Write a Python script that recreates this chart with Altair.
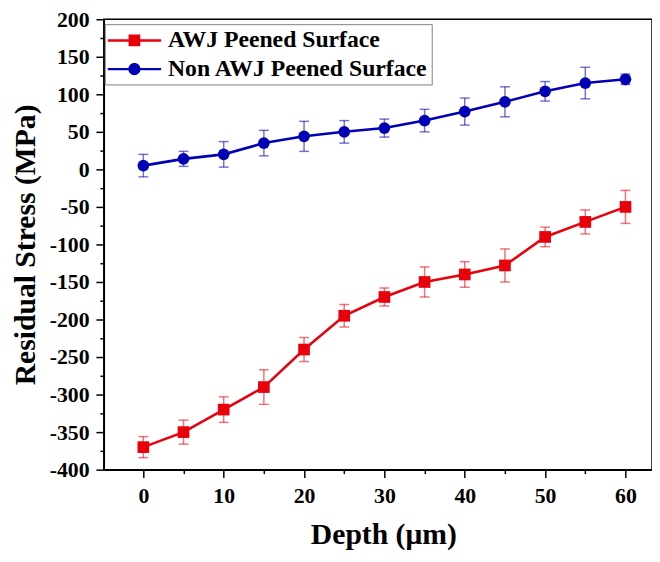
import altair as alt
import pandas as pd

depth = [0, 5, 10, 15, 20, 25, 30, 35, 40, 45, 50, 55, 60]
awj_stress = [-370, -350, -320, -290, -240, -195, -170, -150, -140, -128, -90, -70, -50]
awj_err = [14, 16, 17, 23, 16, 15, 12, 20, 17, 22, 13, 16, 22]
non_stress = [5, 14, 20, 35, 44, 50, 55, 65, 77, 90, 104, 115, 120]
non_err = [15, 10, 17, 17, 20, 15, 12, 15, 18, 20, 13, 21, 7]
series = ["AWJ Peened Surface", "Non AWJ Peened Surface"]
colors = ["#e8000b", "#0000b4"]
y_ticks = list(range(-400, 201, 25))
x_ticks = list(range(0, 61, 5))

rows = []
for name, vals, errs in [(series[0], awj_stress, awj_err), (series[1], non_stress, non_err)]:
    for d, v, e in zip(depth, vals, errs):
        rows.append({"depth": d, "stress": v, "low": v - e, "high": v + e, "series": name})
df = pd.DataFrame(rows)

FONT = "Liberation Serif"

x_axis = alt.Axis(
    values=x_ticks,
    labelExpr="datum.value % 10 === 0 ? '' + datum.value : ''",
    tickSize={"condition": {"test": "datum.value % 10 === 0", "value": 8}, "value": 4},
    grid=False, domainColor="black", domainWidth=1.5, tickColor="black", tickWidth=1.5,
    labelFont=FONT, labelFontSize=22, labelFontWeight="bold", labelColor="black", labelPadding=8,
    titleFont=FONT, titleFontSize=30, titleFontWeight="bold", titleColor="black", titlePadding=14,
    titleX=283, labelFlush=False, labelOverlap=False,
)
y_axis = alt.Axis(
    values=y_ticks,
    labelExpr="datum.value % 50 === 0 ? '' + datum.value : ''",
    tickSize={"condition": {"test": "datum.value % 50 === 0", "value": 8}, "value": 4},
    grid=False, domainColor="black", domainWidth=1.5, tickColor="black", tickWidth=1.5,
    labelFont=FONT, labelFontSize=22, labelFontWeight="bold", labelColor="black", labelPadding=7,
    titleFont=FONT, titleFontSize=30, titleFontWeight="bold", titleColor="black", titlePadding=9,
    labelFlush=False, labelOverlap=False,
)

xs = alt.Scale(domain=[-4.92, 63.3], nice=False, zero=False)
ys = alt.Scale(domain=[-400, 200], nice=False, zero=False)
X = alt.X("depth:Q", scale=xs, axis=x_axis, title="Depth (μm)")
Y = alt.Y("stress:Q", scale=ys, axis=y_axis, title="Residual Stress (MPa)")
col_nolegend = alt.Color("series:N", scale=alt.Scale(domain=series, range=colors), legend=None)

base = alt.Chart(df)

errbars = base.mark_errorbar(ticks={"size": 10}, thickness=1.5, opacity=0.55).encode(
    x=X,
    y=alt.Y("low:Q", scale=ys, axis=y_axis, title="Residual Stress (MPa)"),
    y2="high:Q",
    color=col_nolegend,
)

lines = base.mark_line(strokeWidth=2.6).encode(x=X, y=Y, color=col_nolegend)

points = base.mark_point(filled=True, opacity=1, size=140).encode(
    x=X, y=Y, color=col_nolegend,
    shape=alt.Shape("series:N", scale=alt.Scale(domain=series, range=["square", "circle"]), legend=None),
)

SQ = "M-1,-0.09H0.56V0.09H-1Z M1.44,-0.09H3V0.09H1.44Z M0.56,-0.44H1.44V0.44H0.56Z"
CI = ("M-1,-0.09H0.54V0.09H-1Z M1.46,-0.09H3V0.09H1.46Z "
      "M0.54,0A0.46,0.46,0,1,1,1.46,0A0.46,0.46,0,1,1,0.54,0Z")

leg = alt.Legend(
    title=None, orient="none", legendX=1, legendY=5,
    symbolSize=729, symbolStrokeWidth=0, symbolOpacity=1,
    labelFont=FONT, labelFontSize=24, labelFontWeight="bold", labelColor="black",
    labelOffset=34, labelLimit=500, rowPadding=3, padding=3,
    strokeColor="#808080", fillColor="white",
)
legend_layer = base.mark_point(filled=True).encode(
    x=X, y=Y,
    color=alt.Color("series:N", scale=alt.Scale(domain=series, range=colors), legend=leg),
    shape=alt.Shape("series:N", scale=alt.Scale(domain=series, range=[SQ, CI]), legend=leg),
).transform_filter("datum.depth < -1000")

chart = alt.layer(errbars, lines, points, legend_layer).resolve_scale(
    shape="independent", color="independent"
).properties(
    width=555, height=456,
    padding={"left": 97, "top": 8, "right": 0, "bottom": 80},
    autosize=alt.AutoSizeParams(type="none"),
).configure_view(stroke="black", strokeWidth=1.5)

chart.save("out.html", embed_options={"renderer": "svg", "actions": False})
